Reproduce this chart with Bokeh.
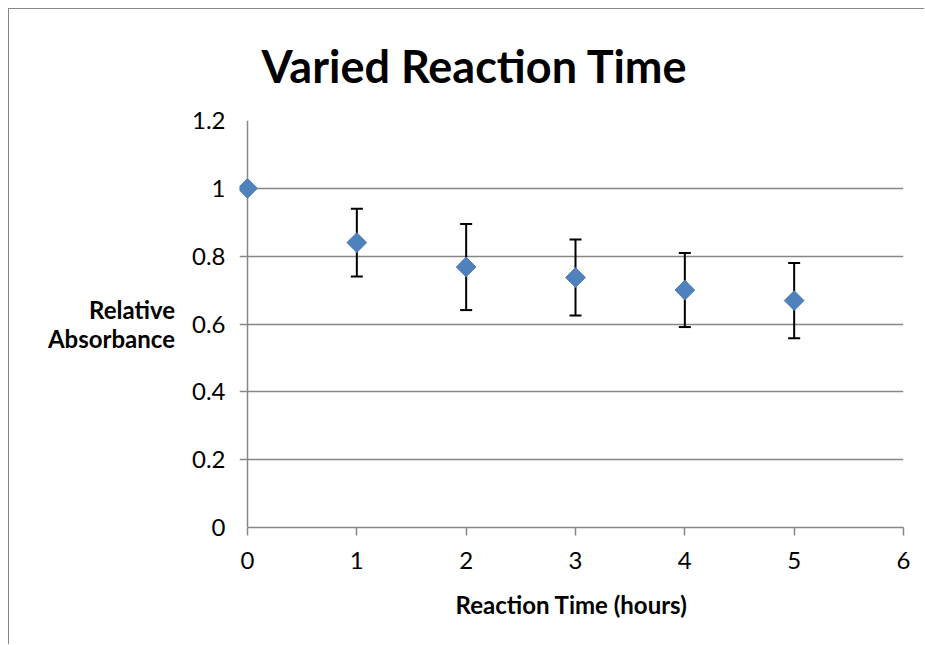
import numpy as np
from bokeh.plotting import figure
from bokeh.models import ColumnDataSource, Whisker, TeeHead, FixedTicker, Range1d, Title, Span
from bokeh.embed import file_html
from bokeh.resources import INLINE

# Data
hours = [0, 1, 2, 3, 4, 5]
absorbance = [1.0, 0.84, 0.768, 0.737, 0.70, 0.669]
error = [0.0, 0.10, 0.127, 0.112, 0.109, 0.111]
x_ticks = [0, 1, 2, 3, 4, 5, 6]
y_ticks = [0, 0.2, 0.4, 0.6, 0.8, 1.0, 1.2]
y_tick_labels = {0: "0", 0.2: "0.2", 0.4: "0.4", 0.6: "0.6", 0.8: "0.8", 1.0: "1", 1.2: "1.2"}

FONT = "Lato"
GRID = "#878787"
X_MIN, X_MAX = 0, 6
TICK_LEN = 8        # px length of y tick marks (drawn by the grid lines)
PLOT_W = 656        # px between x=0 and x=6

src = ColumnDataSource(dict(x=hours, y=absorbance))
eb_x = [h for h, e in zip(hours, error) if e > 0]
eb_up = [a + e for a, e in zip(absorbance, error) if e > 0]
eb_lo = [a - e for a, e in zip(absorbance, error) if e > 0]
err_src = ColumnDataSource(dict(x=eb_x, upper=eb_up, lower=eb_lo))

# extend the frame a few pixels left of x=0 so the y "tick marks" are the grid lines
x_start = X_MIN - TICK_LEN * (X_MAX - X_MIN) / PLOT_W

p = figure(width=916, height=636, output_backend="svg", toolbar_location=None,
           x_range=Range1d(x_start, X_MAX), y_range=Range1d(0, 1.2),
           min_border_left=230, min_border_right=22, min_border_top=111, min_border_bottom=118)
p.styles = {"margin-left": "8px", "margin-top": "8px",
            "border-top": "1px solid #878787", "border-left": "1px solid #878787"}
p.outline_line_color = None
p.background_fill_color = "white"
p.border_fill_color = "white"

p.title = Title(text="Varied Reaction Time", text_font=FONT, text_font_size="45px",
                text_font_style="bold", text_color="black", align="left",
                vertical_align="top", offset=22, standoff=52)

p.xgrid.grid_line_color = None
p.ygrid.grid_line_color = GRID
p.ygrid.grid_line_width = 1.5

for ax in (p.xaxis, p.yaxis):
    ax.axis_line_color = GRID
    ax.axis_line_width = 1.5
    ax.major_tick_line_color = GRID
    ax.major_tick_line_width = 1.5
    ax.major_tick_in = 0
    ax.major_tick_out = 8
    ax.minor_tick_line_color = None
    ax.major_label_text_font = FONT
    ax.major_label_text_font_size = "24px"
    ax.major_label_text_color = "black"
    ax.axis_label_text_font = FONT
    ax.axis_label_text_font_style = "bold"
    ax.axis_label_text_font_size = "24px"
    ax.axis_label_text_color = "black"

p.xaxis.bounds = (X_MIN, X_MAX)
p.yaxis.axis_line_color = None
p.yaxis.major_tick_out = 0
p.yaxis.major_tick_line_color = None

p.xaxis.ticker = FixedTicker(ticks=x_ticks)
p.yaxis.ticker = FixedTicker(ticks=y_ticks)
p.yaxis.major_label_overrides = y_tick_labels
p.xaxis.major_label_standoff = 16
p.yaxis.major_label_standoff = 14
p.xaxis.axis_label = "Reaction Time (hours)"
p.xaxis.axis_label_standoff = 18
p.yaxis.axis_label = "Relative\nAbsorbance"
p.yaxis.axis_label_orientation = "horizontal"
p.yaxis.axis_label_standoff = 14
p.yaxis.axis_label_text_line_height = 1.0

# y axis line at x = 0
p.add_layout(Span(location=X_MIN, dimension="height", line_color=GRID,
                  line_width=1.5, level="underlay"))

wh = Whisker(source=err_src, base="x", upper="upper", lower="lower",
             line_color="black", line_width=2,
             upper_head=TeeHead(size=12, line_color="black", line_width=2),
             lower_head=TeeHead(size=12, line_color="black", line_width=2))
p.add_layout(wh)

p.scatter("x", "y", source=src, marker="square", angle=np.pi / 4, size=14,
          fill_color="#4F81BD", line_color="#4F81BD")

open("out.html", "w").write(file_html(p, INLINE))
